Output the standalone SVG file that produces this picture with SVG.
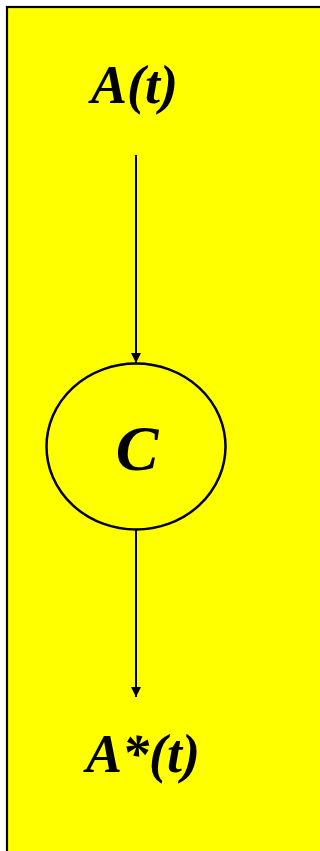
<svg xmlns="http://www.w3.org/2000/svg" width="320" height="851" viewBox="0 0 320 851">
<style>
.lbl{font-family:"Liberation Serif","Times New Roman",serif;font-weight:bold;font-style:italic;fill:#000}
.edge{stroke:#000;stroke-width:2;fill:none}
</style>
<defs>
<marker id="ah" viewBox="0 0 10 10" refX="10" refY="5" markerWidth="10" markerHeight="10" markerUnits="userSpaceOnUse" orient="auto">
<path d="M0,0 L10,5 L0,10 Z" fill="#000"/>
</marker>
</defs>
<rect x="0" y="0" width="320" height="851" fill="#fff"/>
<rect id="frame" x="7" y="7" width="340" height="880" fill="#ffff00" stroke="#000" stroke-width="2.2"/>
<g id="connectors">
<line class="edge" x1="136" y1="155" x2="136" y2="363" marker-end="url(#ah)"/>
<line class="edge" x1="136" y1="530" x2="136" y2="697" marker-end="url(#ah)"/>
</g>
<g id="node-A">
<text class="lbl" x="91" y="103" font-size="54">A(t)</text>
</g>
<g id="node-C">
<ellipse cx="136" cy="446.5" rx="89.5" ry="83" fill="#ffff00" stroke="#000" stroke-width="2.5"/>
<text class="lbl" x="137" y="470" font-size="64" text-anchor="middle">C</text>
</g>
<g id="node-Astar">
<text class="lbl" x="86" y="772" font-size="54">A*(t)</text>
</g>
</svg>
